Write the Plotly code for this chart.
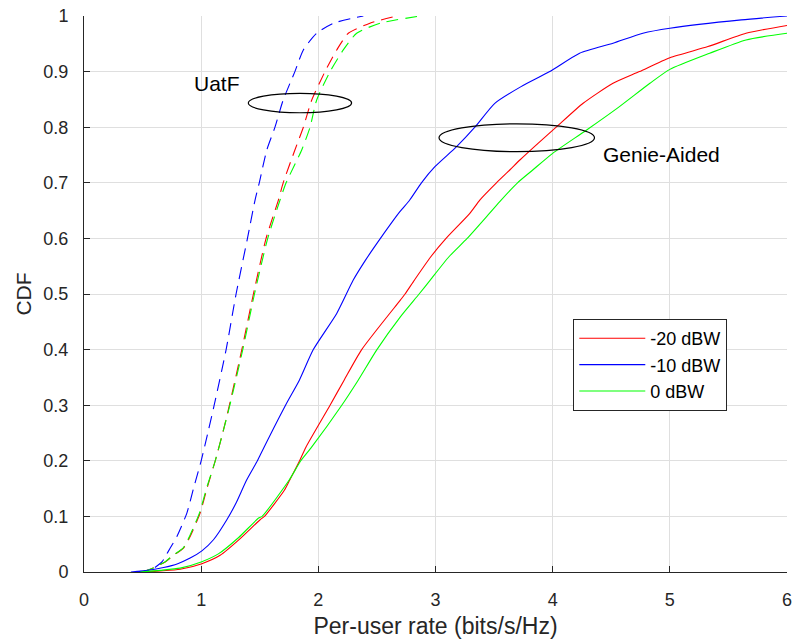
import plotly.graph_objects as go

# ---------------- data ----------------
series_names = ["-20 dBW", "-10 dBW", "0 dBW"]
series_colors = ["#ff0000", "#0000ff", "#00ff00"]

# Genie-Aided (solid)
genie_m20_x = [0.50, 0.65, 0.821, 1.006, 1.162, 1.333, 1.503, 1.54, 1.71, 1.755, 1.84, 1.895, 2.10, 2.22, 2.37,
               2.70, 2.74, 2.82, 2.96, 3.09, 3.293, 3.378, 3.52, 3.634, 3.72, 3.875, 4.03, 4.26, 4.515, 4.74,
               5.0, 5.325, 5.65, 6.0]
genie_m20_y = [0.0, 0.002, 0.005, 0.015, 0.03, 0.06, 0.094, 0.1, 0.147, 0.165, 0.2, 0.225, 0.3, 0.345, 0.4,
               0.489, 0.5, 0.525, 0.567, 0.6, 0.645, 0.669, 0.7, 0.723, 0.741, 0.771, 0.8, 0.843, 0.879, 0.9,
               0.925, 0.945, 0.969, 0.983]

genie_m10_x = [0.40, 0.55, 0.679, 0.80, 0.906, 1.006, 1.105, 1.219, 1.30, 1.387, 1.48, 1.503, 1.72, 1.838,
               1.957, 2.157, 2.298, 2.40, 2.53, 2.696, 2.78, 2.88, 2.995, 3.18, 3.336, 3.506, 3.73, 3.975,
               4.23, 4.515, 4.77, 5.0, 5.61, 6.0]
genie_m10_y = [0.0, 0.003, 0.008, 0.015, 0.025, 0.038, 0.058, 0.094, 0.125, 0.165, 0.2, 0.21, 0.3, 0.345,
               0.4, 0.465, 0.525, 0.56, 0.6, 0.648, 0.669, 0.7, 0.729, 0.765, 0.8, 0.843, 0.873, 0.9,
               0.933, 0.951, 0.969, 0.978, 0.993, 1.0]

genie_0_x = [0.48, 0.65, 0.821, 1.0, 1.15, 1.32, 1.49, 1.52, 1.75, 1.85, 1.944, 2.20, 2.34, 2.50, 2.70, 2.86,
             2.955, 3.115, 3.27, 3.46, 3.56, 3.70, 3.83, 4.0, 4.29, 4.57, 4.83, 5.0, 5.34, 5.65, 6.0]
genie_0_y = [0.0, 0.003, 0.007, 0.018, 0.033, 0.062, 0.097, 0.1, 0.165, 0.2, 0.225, 0.3, 0.345, 0.4, 0.459, 0.5,
             0.525, 0.567, 0.6, 0.645, 0.669, 0.7, 0.723, 0.753, 0.795, 0.837, 0.879, 0.904, 0.933, 0.957, 0.969]

# UatF (dashed)
uatf_y = [0.0, 0.005, 0.018, 0.03, 0.043, 0.064, 0.106, 0.15, 0.2, 0.255, 0.3, 0.4, 0.5, 0.6, 0.669, 0.7,
          0.759, 0.8, 0.849, 0.9, 0.939, 0.969, 0.987, 1.0]
uatf_m20_x = [0.50, 0.565, 0.693, 0.764, 0.849, 0.906, 0.991, 1.049, 1.12, 1.19, 1.241, 1.347, 1.446, 1.554,
              1.659, 1.70, 1.80, 1.872, 1.944, 2.057, 2.157, 2.256, 2.44, 2.668]
uatf_m10_x = [0.45, 0.58, 0.665, 0.70, 0.736, 0.793, 0.878, 0.934, 1.0, 1.062, 1.111, 1.213, 1.298, 1.395,
              1.46, 1.496, 1.56, 1.63, 1.70, 1.80, 1.872, 1.986, 2.128, 2.384]
uatf_0_x = [0.50, 0.565, 0.69, 0.76, 0.845, 0.90, 0.985, 1.045, 1.12, 1.19, 1.245, 1.355, 1.455, 1.568,
            1.673, 1.725, 1.858, 1.929, 1.986, 2.10, 2.213, 2.327, 2.526, 2.87]

x_tickvals = [0, 1, 2, 3, 4, 5, 6]
x_ticktext = ["0", "1", "2", "3", "4", "5", "6"]
y_tickvals = [0, 0.1, 0.2, 0.3, 0.4, 0.5, 0.6, 0.7, 0.8, 0.9, 1.0]
y_ticktext = ["0", "0.1", "0.2", "0.3", "0.4", "0.5", "0.6", "0.7", "0.8", "0.9", "1"]

# annotation labels and ellipse extents (data units)
label_texts = ["UatF", "Genie-Aided"]
label_x = [1.135, 4.93]
label_y = [0.879, 0.751]
ellipse_x0 = [1.402, 3.030]
ellipse_x1 = [2.284, 4.357]
ellipse_y0 = [0.826, 0.756]
ellipse_y1 = [0.861, 0.806]

# ---------------- figure ----------------
FONT = "Liberation Sans, Arial, Helvetica, sans-serif"
TXT = "#262626"
fig = go.Figure()

genie_x = [genie_m20_x, genie_m10_x, genie_0_x]
genie_y = [genie_m20_y, genie_m10_y, genie_0_y]
uatf_x = [uatf_m20_x, uatf_m10_x, uatf_0_x]

for i in range(3):
    fig.add_trace(go.Scatter(x=uatf_x[i], y=uatf_y, mode="lines",
                             line=dict(color=series_colors[i], width=1.1, dash="12px,7px",
                                       shape="spline", smoothing=0.6),
                             showlegend=False, hoverinfo="skip"))
for i in range(3):
    fig.add_trace(go.Scatter(x=genie_x[i], y=genie_y[i], mode="lines", name=series_names[i],
                             line=dict(color=series_colors[i], width=1.1, shape="spline", smoothing=0.6)))

for t, x, y in zip(label_texts, label_x, label_y):
    fig.add_annotation(x=x, y=y, xref="x", yref="y", text=t, showarrow=False,
                       font=dict(family=FONT, size=21, color="#000000"))
for x0, x1, y0, y1 in zip(ellipse_x0, ellipse_x1, ellipse_y0, ellipse_y1):
    fig.add_shape(type="circle", xref="x", yref="y", x0=x0, x1=x1, y0=y0, y1=y1,
                  line=dict(color="#000000", width=1.2))

axis_common = dict(
    showgrid=True, gridcolor="#dfdfdf", gridwidth=1, zeroline=False,
    showline=True, linecolor=TXT, linewidth=1, automargin=False,
    ticks="inside", ticklen=6, tickcolor=TXT, ticklabeloverflow="allow",
    tickfont=dict(family=FONT, size=18, color=TXT),
)

fig.update_layout(
    width=793, height=641,
    margin=dict(l=84, r=6, t=16, b=69),
    paper_bgcolor="white", plot_bgcolor="white",
    font=dict(family=FONT, color=TXT),
    xaxis=dict(range=[0, 6], tickvals=x_tickvals, ticktext=x_ticktext,
               title=dict(text="Per-user rate (bits/s/Hz)", font=dict(family=FONT, size=23, color=TXT),
                          standoff=9),
               ticklabelstandoff=11, **axis_common),
    yaxis=dict(range=[0, 1], tickvals=y_tickvals, ticktext=y_ticktext,
               title=dict(text="CDF", font=dict(family=FONT, size=21, color=TXT), standoff=6),
               ticklabelstandoff=11, **axis_common),
    legend=dict(x=0.696, y=0.455, xanchor="left", yanchor="top",
                bgcolor="white", bordercolor=TXT, borderwidth=1,
                font=dict(family=FONT, size=18, color="#000000"),
                itemwidth=66, tracegroupgap=0),
    showlegend=True,
)

# remove the page's default 8px body margin so the 793x641 figure fills the window exactly
fig.write_html("out.html",
               config={"displayModeBar": False},
               post_script="document.body.style.margin='0px';document.body.style.overflow='hidden';")
